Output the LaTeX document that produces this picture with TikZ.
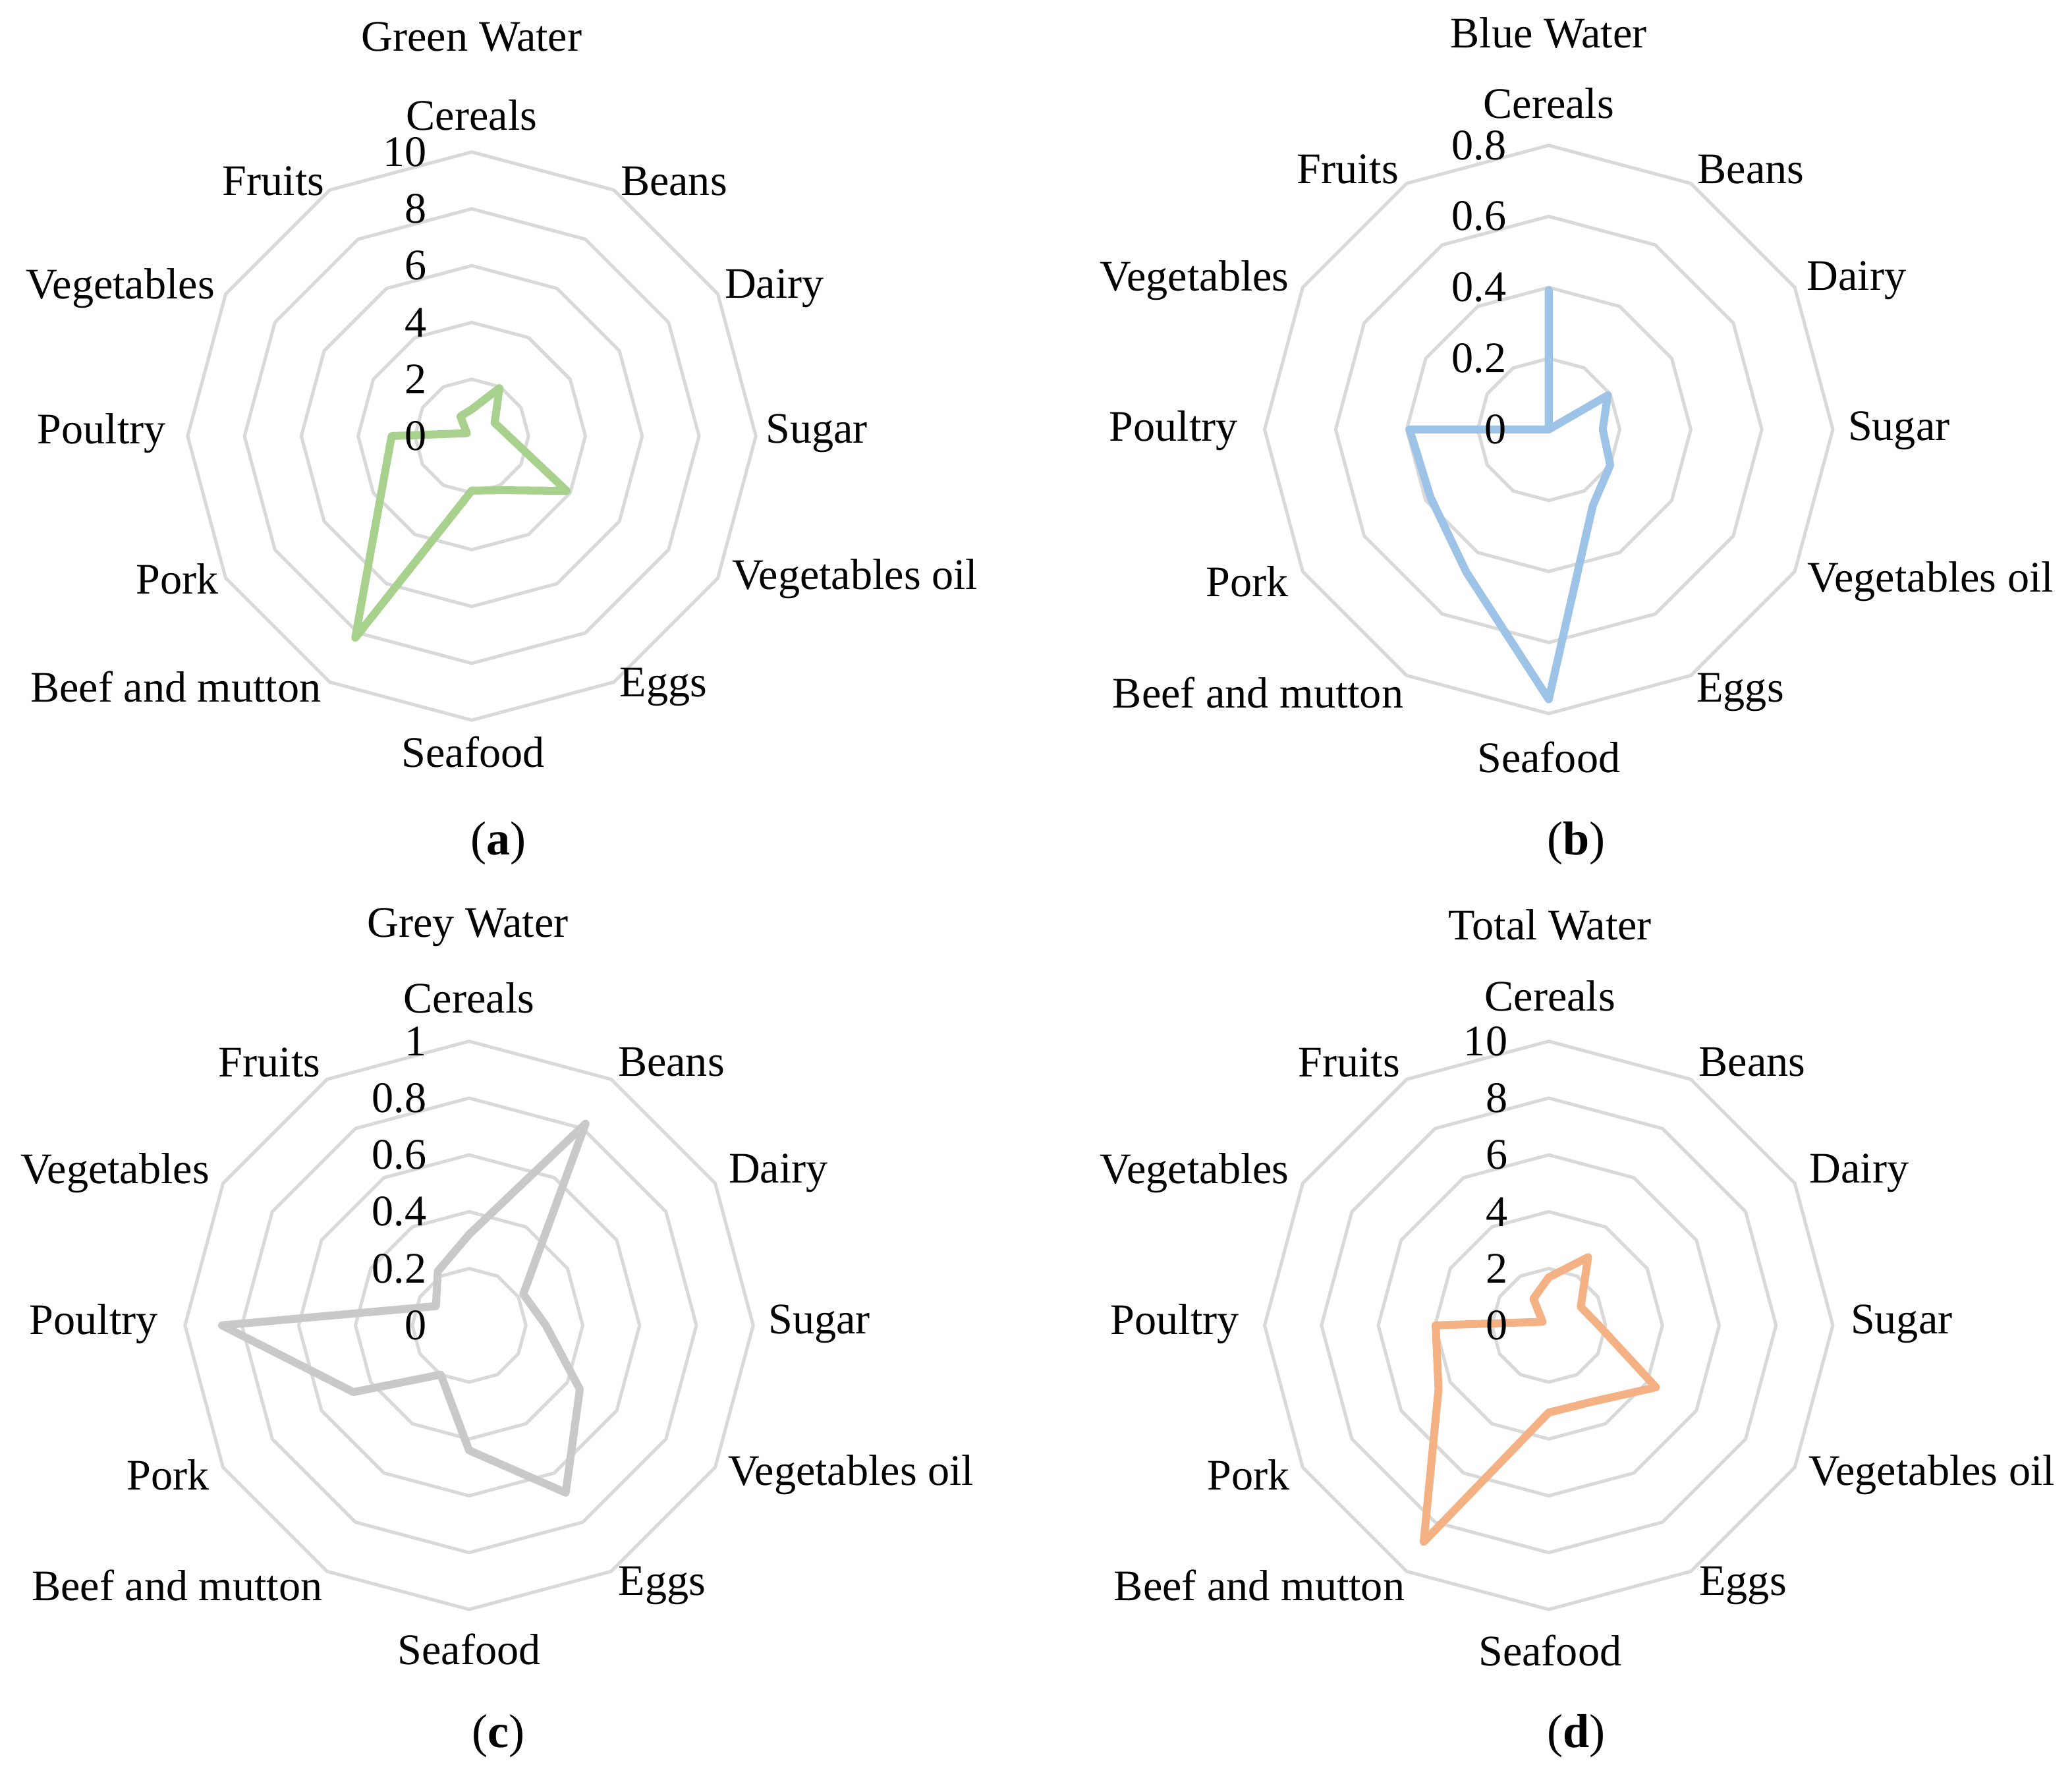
\documentclass[tikz,border=0pt]{standalone}
\usepackage{fontspec}
\setmainfont{Liberation Serif}
\definecolor{gridc}{HTML}{D9D9D9}
\definecolor{cgreen}{HTML}{A9D18E}
\definecolor{cblue}{HTML}{9DC3E6}
\definecolor{cgrey}{HTML}{C9C9C9}
\definecolor{corange}{HTML}{F4B183}
\newcommand\myradar[6]{% #1 name, #2 cx, #3 cy, #4 rings, #5 colour, #6 values
  \begin{scope}[shift={(#2,#3)}]
    \foreach \k in {1,...,#4}{
      \pgfmathsetmacro\rr{\k*\R/#4}
      \draw[gridline] plot[samples at={0,30,...,330}] ({\rr*sin(\x)},{-\rr*cos(\x)}) -- cycle;
    }
    \def\vals{{#6}}
    \draw[dataline,draw=#5] plot[samples at={0,...,11}] ({\R*\vals[\x]*sin(30*\x)},{-\R*\vals[\x]*cos(30*\x)}) -- cycle;
    \coordinate (#1-c) at (0,0);
  \end{scope}}
\begin{document}
\begin{tikzpicture}[x=1pt,y=-1pt,
  lab/.style={font=\fontsize{33}{40}\selectfont, inner sep=0pt},
  tick/.style={font=\fontsize{33}{40}\selectfont, inner sep=0pt, anchor=east},
  subcap/.style={font=\fontsize{36}{42}\selectfont, inner sep=0pt},
  gridline/.style={draw=gridc, line width=2.5pt, line join=round},
  dataline/.style={line width=6pt, line join=round}]
\def\R{215}
\useasboundingbox (0,0) rectangle (1568,1350);
% (a)
\myradar{a}{357}{330}{5}{cgreen}{0.094,0.195,0.093,0.13,0.386,0.22,0.192,0.82,0.364,0.282,0.02,0.08}
\foreach \t [count=\i from 0] in {0,2,4,6,8,10}
  \node[tick] (a-t\i) at (323,{330-\i*\R/5}) {\t};
\node[lab] (a-title) at (357,28) {Green Water};
\node[lab] (a-1) at (357,87) {Cereals};
\node[lab] (a-2) at (510,137) {Beans};
\node[lab] (a-3) at (586,218) {Dairy};
\node[lab] (a-4) at (618,328) {Sugar};
\node[lab] (a-5) at (647,438) {Vegetables oil};
\node[lab] (a-6) at (502,520) {Eggs};
\node[lab] (a-7) at (358,569) {Seafood};
\node[lab] (a-8) at (133,520) {Beef and mutton};
\node[lab] (a-9) at (134,438) {Pork};
\node[lab] (a-10) at (77,328) {Poultry};
\node[lab] (a-11) at (91,218) {Vegetables};
\node[lab] (a-12) at (207,137) {Fruits};
\node[subcap] (a-cap) at (377,638) {(\textbf{a})};
% (b)
\myradar{b}{1172}{325}{4}{cblue}{0.49,0.0,0.24,0.19,0.25,0.31,0.95,0.58,0.48,0.49,0.0,0.0}
\foreach \t [count=\i from 0] in {0,0.2,0.4,0.6,0.8}
  \node[tick] (b-t\i) at (1140,{325-\i*\R/4}) {\t};
\node[lab] (b-title) at (1172,25) {Blue Water};
\node[lab] (b-1) at (1172,78) {Cereals};
\node[lab] (b-2) at (1325,128) {Beans};
\node[lab] (b-3) at (1405,212) {Dairy};
\node[lab] (b-4) at (1437,326) {Sugar};
\node[lab] (b-5) at (1461,440) {Vegetables oil};
\node[lab] (b-6) at (1317,524) {Eggs};
\node[lab] (b-7) at (1172,573) {Seafood};
\node[lab] (b-8) at (952,524) {Beef and mutton};
\node[lab] (b-9) at (944,440) {Pork};
\node[lab] (b-10) at (888,326) {Poultry};
\node[lab] (b-11) at (904,212) {Vegetables};
\node[lab] (b-12) at (1020,128) {Fruits};
\node[subcap] (b-cap) at (1193,638) {(\textbf{b})};
% (c)
\myradar{c}{355}{1003}{5}{cgrey}{0.32,0.82,0.22,0.27,0.45,0.68,0.44,0.2,0.47,0.87,0.135,0.22}
\foreach \t [count=\i from 0] in {0,0.2,0.4,0.6,0.8,1}
  \node[tick] (c-t\i) at (323,{1003-\i*\R/5}) {\t};
\node[lab] (c-title) at (354,702) {Grey Water};
\node[lab] (c-1) at (355,755) {Cereals};
\node[lab] (c-2) at (508,804) {Beans};
\node[lab] (c-3) at (589,888) {Dairy};
\node[lab] (c-4) at (620,1002) {Sugar};
\node[lab] (c-5) at (644,1116) {Vegetables oil};
\node[lab] (c-6) at (501,1200) {Eggs};
\node[lab] (c-7) at (355,1248) {Seafood};
\node[lab] (c-8) at (134,1200) {Beef and mutton};
\node[lab] (c-9) at (127,1116) {Pork};
\node[lab] (c-10) at (71,1002) {Poultry};
\node[lab] (c-11) at (87,888) {Vegetables};
\node[lab] (c-12) at (204,804) {Fruits};
\node[subcap] (c-cap) at (377,1314) {(\textbf{c})};
% (d)
\myradar{d}{1172}{1003}{5}{corange}{0.169,0.277,0.13,0.176,0.436,0.31,0.307,0.88,0.448,0.398,0.025,0.108}
\foreach \t [count=\i from 0] in {0,2,4,6,8,10}
  \node[tick] (d-t\i) at (1141,{1003-\i*\R/5}) {\t};
\node[lab] (d-title) at (1173,700) {Total Water};
\node[lab] (d-1) at (1173,754) {Cereals};
\node[lab] (d-2) at (1326,804) {Beans};
\node[lab] (d-3) at (1407,888) {Dairy};
\node[lab] (d-4) at (1439,1002) {Sugar};
\node[lab] (d-5) at (1462,1116) {Vegetables oil};
\node[lab] (d-6) at (1319,1200) {Eggs};
\node[lab] (d-7) at (1173,1249) {Seafood};
\node[lab] (d-8) at (953,1200) {Beef and mutton};
\node[lab] (d-9) at (945,1116) {Pork};
\node[lab] (d-10) at (889,1002) {Poultry};
\node[lab] (d-11) at (904,888) {Vegetables};
\node[lab] (d-12) at (1021,804) {Fruits};
\node[subcap] (d-cap) at (1193,1314) {(\textbf{d})};
\end{tikzpicture}
\end{document}
